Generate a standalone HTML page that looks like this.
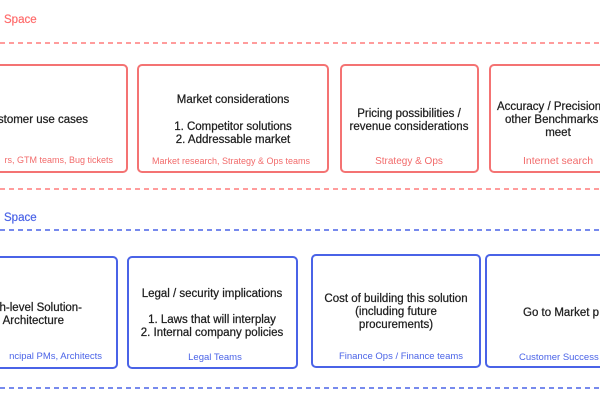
<!DOCTYPE html>
<html><head><style>body{margin:0;background:#fff}svg{display:block}</style></head>
<body>
<svg width="600" height="400" viewBox="0 0 600 400" xmlns="http://www.w3.org/2000/svg" font-family="Liberation Sans, sans-serif">
<rect width="600" height="400" fill="#fff"/>
<!-- red section -->
<text x="4" y="23" font-size="11.5" fill="#ff6b6b" stroke="#ff6b6b" stroke-width="0.2">Space</text>
<line x1="0" y1="43" x2="600" y2="43" stroke="#ff7b7b" stroke-width="1.5" stroke-dasharray="5,4"/>
<line x1="0" y1="189" x2="600" y2="189" stroke="#ff7b7b" stroke-width="1.5" stroke-dasharray="5,4"/>
<g fill="none" stroke="#f47373" stroke-width="2">
<rect x="-10" y="65" width="137" height="107" rx="4"/>
<rect x="138" y="65" width="190" height="107" rx="4"/>
<rect x="341" y="65" width="137" height="107" rx="4"/>
<rect x="490" y="65" width="130" height="107" rx="4"/>
</g>
<g font-size="11.5" fill="#1e1e1e" stroke="#1e1e1e" stroke-width="0.25" text-anchor="middle">
<text x="88" y="123" text-anchor="end">ustomer use cases</text>
<text x="233" y="103">Market considerations</text>
<text x="233" y="130">1. Competitor solutions</text>
<text x="233" y="143">2. Addressable market</text>
<text x="409" y="117">Pricing possibilities /</text>
<text x="409" y="130">revenue considerations</text>
<text x="497" y="110" text-anchor="start">Accuracy / Precision</text>
<text x="505" y="123" text-anchor="start">other Benchmarks</text>
<text x="558" y="136">meet</text>
</g>
<g font-size="9" fill="#f26b6b" text-anchor="middle">
<text x="113" y="163" text-anchor="end">rs, GTM teams, Bug tickets</text>
<text x="231" y="164">Market research, Strategy &amp; Ops teams</text>
<text x="409" y="164" font-size="10">Strategy &amp; Ops</text>
<text x="523" y="164" text-anchor="start" font-size="10.5">Internet search</text>
</g>
<!-- blue section -->
<text x="4" y="221" font-size="11.5" fill="#4a63e7" stroke="#4a63e7" stroke-width="0.2">Space</text>
<line x1="0" y1="230" x2="600" y2="230" stroke="#4a63e7" stroke-width="1.5" stroke-dasharray="5,4"/>
<line x1="0" y1="388" x2="600" y2="388" stroke="#4a63e7" stroke-width="1.5" stroke-dasharray="5,4"/>
<g fill="none" stroke="#4a63e7" stroke-width="2">
<rect x="-10" y="257" width="127" height="111" rx="4"/>
<rect x="128" y="257" width="169" height="111" rx="4"/>
<rect x="312" y="255" width="168" height="112" rx="4"/>
<rect x="486" y="255" width="130" height="112" rx="4"/>
</g>
<g font-size="11.5" fill="#1e1e1e" stroke="#1e1e1e" stroke-width="0.25" text-anchor="middle">
<text x="82" y="311" text-anchor="end">h-level Solution-</text>
<text x="64" y="324" text-anchor="end">Architecture</text>
<text x="212" y="297">Legal / security implications</text>
<text x="212" y="323">1. Laws that will interplay</text>
<text x="212" y="336">2. Internal company policies</text>
<text x="396" y="302">Cost of building this solution</text>
<text x="396" y="315">(including future</text>
<text x="396" y="328">procurements)</text>
<text x="523" y="316" text-anchor="start">Go to Market p</text>
</g>
<g font-size="9.5" fill="#4a63e7" text-anchor="middle">
<text x="102" y="359" text-anchor="end">ncipal PMs, Architects</text>
<text x="215" y="360">Legal Teams</text>
<text x="401" y="359">Finance Ops / Finance teams</text>
<text x="519" y="360" text-anchor="start">Customer Success</text>
</g>
</svg>
</body></html>
